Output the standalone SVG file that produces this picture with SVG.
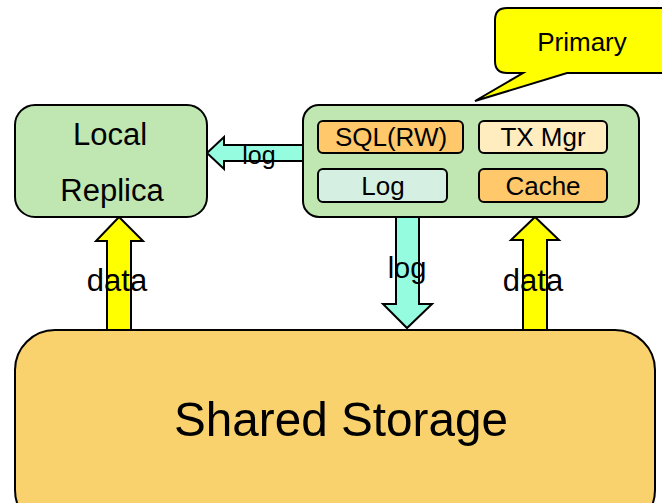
<svg xmlns="http://www.w3.org/2000/svg" width="662" height="503" viewBox="0 0 662 503">
  <style>
    .box { stroke: #000; stroke-width: 2; }
    .arrow { stroke: #000; stroke-width: 2; stroke-linejoin: miter; }
    .t { font-family: "Liberation Sans", Arial, sans-serif; fill: #000; text-anchor: middle; }
    .green { fill: #C0E6B1; }
    .orange { fill: #FFC96B; }
    .cream { fill: #FFEDC0; }
    .mint { fill: #D5F0E3; }
    .log { fill: #96FCE0; }
    .data { fill: #FFFF00; }
  </style>

  <!-- Primary callout -->
  <g id="primary-callout">
    <path class="box data" d="M507,8 H670 V73 H567 L475,101 L523,73 H507 Q495,73 495,61 V20 Q495,8 507,8 Z"/>
    <text class="t" x="582" y="51" font-size="26">Primary</text>
  </g>

  <!-- Connectors -->
  <g id="connectors">
    <!-- log: Primary -> Local Replica -->
    <path class="arrow log" d="M303,145 H224 V137 L207,153 L224,169 V161 H303 Z"/>
    <!-- data: Shared Storage -> Local Replica -->
    <path class="arrow data" d="M107,331 V241 H96 L119,217 L143,241 H131 V331 Z"/>
    <!-- log: Primary -> Shared Storage -->
    <path class="arrow log" d="M396,217 V304 H383 L407,328 L432,304 H419 V217 Z"/>
    <!-- data: Shared Storage -> Primary -->
    <path class="arrow data" d="M523,331 V240 H511 L535,217 L559,240 H547 V331 Z"/>
  </g>

  <!-- Local Replica -->
  <g id="local-replica">
    <rect class="box green" x="15" y="105" width="192" height="112" rx="20"/>
    <text class="t" x="110" y="145" font-size="31">Local</text>
    <text class="t" x="112" y="201" font-size="31">Replica</text>
  </g>

  <!-- Primary node with its components -->
  <g id="primary">
    <rect class="box green" x="303" y="105" width="336" height="112" rx="16"/>
    <g id="sql-rw">
      <rect class="box orange" x="318" y="121" width="145" height="32" rx="5"/>
      <text class="t" x="391" y="146" font-size="26">SQL(RW)</text>
    </g>
    <g id="tx-mgr">
      <rect class="box cream" x="479" y="121" width="128" height="32" rx="5"/>
      <text class="t" x="543" y="146" font-size="26">TX Mgr</text>
    </g>
    <g id="log">
      <rect class="box mint" x="318" y="169" width="129" height="33" rx="5"/>
      <text class="t" x="383" y="195" font-size="26">Log</text>
    </g>
    <g id="cache">
      <rect class="box orange" x="479" y="169" width="128" height="33" rx="5"/>
      <text class="t" x="543" y="195" font-size="26">Cache</text>
    </g>
  </g>

  <!-- Connector labels -->
  <g id="connector-labels">
    <text class="t" x="259" y="164" font-size="25">log</text>
    <text class="t" x="117" y="291" font-size="31">data</text>
    <text class="t" x="407" y="278" font-size="29">log</text>
    <text class="t" x="533" y="291" font-size="31">data</text>
  </g>

  <!-- Shared Storage -->
  <g id="shared-storage">
    <rect class="box" fill="#F9D26E" x="15" y="330" width="640" height="200" rx="40"/>
    <text class="t" x="341" y="436" font-size="49" textLength="334" lengthAdjust="spacingAndGlyphs">Shared Storage</text>
  </g>
</svg>
